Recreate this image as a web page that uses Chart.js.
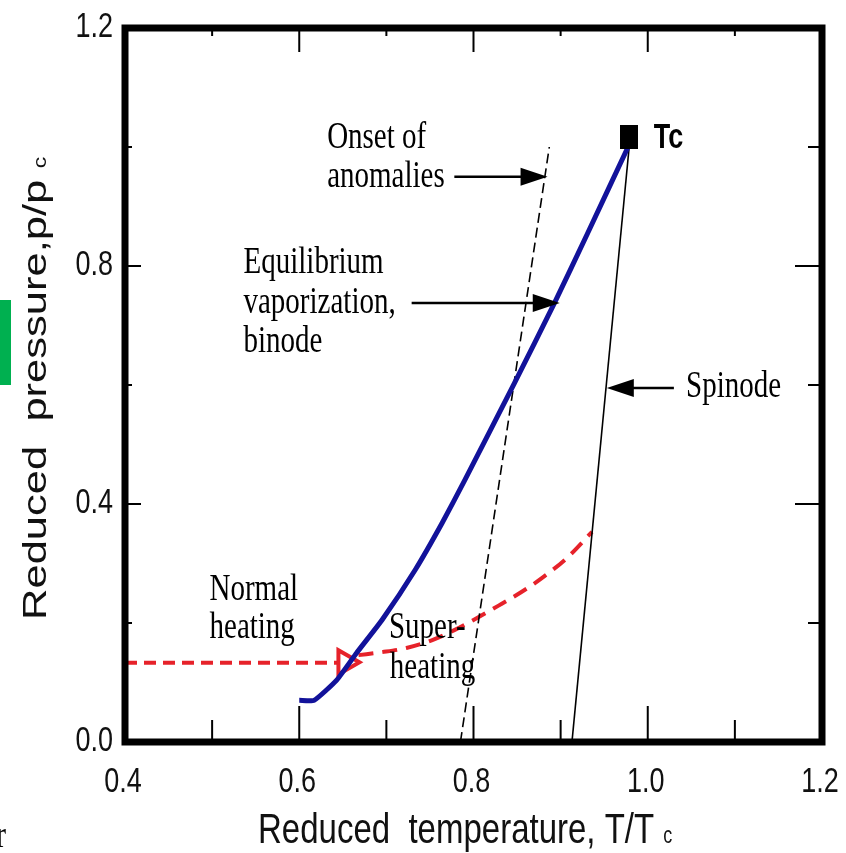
<!DOCTYPE html>
<html lang="en">
<head>
<meta charset="UTF-8">
<title>Reduced pressure vs reduced temperature</title>
<script src="https://cdn.jsdelivr.net/npm/chart.js"></script>
<style>
  html, body { margin: 0; padding: 0; background: #fff; }
  .wrap { position: relative; width: 846px; height: 853px; overflow: hidden; }
  #phaseChart { position: absolute; left: 0; top: 0; }
  .tab { position: absolute; left: 0; top: 300px; width: 11px; height: 85px; background: #00b050; }
</style>
</head>
<body>
<div class="wrap">
  <canvas id="phaseChart" width="846" height="853"></canvas>
  <div class="tab"></div>
</div>
<script>
// axis ticks (reduced temperature T/Tc, reduced pressure p/pc)
const xMajor = [0.4, 0.6, 0.8, 1.0, 1.2];
const xMinor = [0.5, 0.7, 0.9, 1.1];
const yMajor = [0.0, 0.4, 0.8, 1.2];
const yMinor = [0.2, 0.6, 1.0];

// equilibrium vaporization curve (binode)
const binodeT = [0.600, 0.617, 0.643, 0.666, 0.695, 0.733, 0.764, 0.790, 0.847, 0.893, 0.931, 0.979];
const binodeP = [0.070, 0.070, 0.104, 0.150, 0.205, 0.289, 0.368, 0.440, 0.603, 0.738, 0.855, 1.005];

// spinode
const spinodeT = [0.913, 0.979];
const spinodeP = [0.000, 1.005];

// onset of anomalies
const onsetT = [0.785, 0.887];
const onsetP = [0.000, 1.000];

// normal heating path
const normalT = [0.400, 0.647];
const normalP = [0.133, 0.133];

// superheating path
const superT = [0.668, 0.695, 0.723, 0.752, 0.778, 0.806, 0.832, 0.855, 0.878, 0.907, 0.936];
const superP = [0.146, 0.151, 0.158, 0.171, 0.188, 0.210, 0.232, 0.252, 0.275, 0.309, 0.353];

// boiling point marker and critical point
const markT = [0.653];
const markP = [0.134];
const tcT = [0.979];
const tcP = [1.016];

const pts = (xs, ys) => xs.map((x, i) => ({ x: x, y: ys[i] }));

// everything on the sheet is a bit taller than wide
const STRETCH = 1.28;
const SANS = '"Liberation Sans", Arial, sans-serif';
const SERIF = '"Liberation Serif", "Times New Roman", serif';

// labels and arrows, placed in data units
const notes = [
  { text: 'Onset of', t: 0.632, p: 0.998 },
  { text: 'anomalies', t: 0.632, p: 0.933 },
  { text: 'Equilibrium', t: 0.536, p: 0.788 },
  { text: 'vaporization,', t: 0.536, p: 0.721 },
  { text: 'binode', t: 0.536, p: 0.655 },
  { text: 'Spinode', t: 1.044, p: 0.580 },
  { text: 'Normal', t: 0.497, p: 0.239 },
  { text: 'heating', t: 0.497, p: 0.175 },
  { text: 'Super-', t: 0.703, p: 0.175 },
  { text: 'heating', t: 0.704, p: 0.108 }
];
const arrows = [
  { from: [0.778, 0.950], to: [0.885, 0.950] },
  { from: [0.729, 0.738], to: [0.899, 0.738] },
  { from: [1.030, 0.595], to: [0.953, 0.595] }
];

function drawText(ctx, str, px, py, font, align, base, rot) {
  ctx.save();
  ctx.translate(px, py);
  ctx.scale(1, STRETCH);
  if (rot) ctx.rotate(rot);
  ctx.font = font;
  ctx.textAlign = align;
  ctx.textBaseline = base;
  ctx.fillText(str, 0, 0);
  ctx.restore();
}

function drawArrow(ctx, x1, y1, x2, y2) {
  const a = Math.atan2(y2 - y1, x2 - x1);
  const len = 27, half = 9;
  const c = Math.cos(a), s = Math.sin(a);
  ctx.lineWidth = 2.5;
  ctx.beginPath();
  ctx.moveTo(x1, y1);
  ctx.lineTo(x2 - len * c * 0.7, y2 - len * s * 0.7);
  ctx.stroke();
  ctx.beginPath();
  ctx.moveTo(x2, y2);
  ctx.lineTo(x2 - len * c - half * s, y2 - len * s + half * c);
  ctx.lineTo(x2 - len * c + half * s, y2 - len * s - half * c);
  ctx.closePath();
  ctx.fill();
}

const framePlugin = {
  id: 'framePlugin',
  afterDraw(chart) {
    const { ctx, chartArea: ar, scales: { x, y } } = chart;
    ctx.save();
    ctx.strokeStyle = '#000';
    ctx.fillStyle = '#000';

    // heavy box
    ctx.lineWidth = 7;
    ctx.strokeRect(ar.left, ar.top, ar.right - ar.left, ar.bottom - ar.top);

    // inward tick marks
    ctx.lineWidth = 2;
    const seg = (x1, y1, x2, y2) => { ctx.beginPath(); ctx.moveTo(x1, y1); ctx.lineTo(x2, y2); ctx.stroke(); };
    xMajor.forEach(v => { const px = x.getPixelForValue(v); seg(px, ar.bottom, px, ar.bottom - 36); seg(px, ar.top, px, ar.top + 24); });
    xMinor.forEach(v => { const px = x.getPixelForValue(v); seg(px, ar.bottom, px, ar.bottom - 22); seg(px, ar.top, px, ar.top + 8); });
    yMajor.forEach(v => { const py = y.getPixelForValue(v); seg(ar.left, py, ar.left + 16, py); seg(ar.right, py, ar.right - 27, py); });
    yMinor.forEach(v => { const py = y.getPixelForValue(v); seg(ar.left, py, ar.left + 7, py); seg(ar.right, py, ar.right - 14, py); });

    // tick labels
    ctx.fillStyle = '#111';
    xMajor.forEach(v => drawText(ctx, v.toFixed(1), x.getPixelForValue(v) - 2, 782, '27px ' + SANS, 'center', 'middle'));
    yMajor.forEach(v => drawText(ctx, v.toFixed(1), 113, y.getPixelForValue(v) - 1, '27px ' + SANS, 'right', 'middle'));

    // axis titles with small subscript c
    const xt = 'Reduced  temperature, T/T';
    ctx.font = '33px ' + SANS;
    const xw = ctx.measureText(xt).width;
    drawText(ctx, xt, 258, 843, '33px ' + SANS, 'left', 'alphabetic');
    drawText(ctx, 'c', 258 + xw + 9, 843, '18px ' + SANS, 'left', 'alphabetic');

    const yt = 'Reduced  pressure,p/p';
    ctx.font = '34px ' + SANS;
    const yw = ctx.measureText(yt).width;
    drawText(ctx, yt, 46, 620, '34px ' + SANS, 'left', 'alphabetic', -Math.PI / 2);
    ctx.save();
    ctx.translate(46, 620 - (yw + 9) * STRETCH);
    ctx.scale(1, STRETCH);
    ctx.rotate(-Math.PI / 2);
    ctx.font = '18px ' + SANS;
    ctx.fillText('c', 0, 0);
    ctx.restore();

    // annotations
    ctx.fillStyle = '#000';
    notes.forEach(n => drawText(ctx, n.text, x.getPixelForValue(n.t), y.getPixelForValue(n.p), '29px ' + SERIF, 'left', 'alphabetic'));
    drawText(ctx, 'Tc', x.getPixelForValue(1.007), y.getPixelForValue(0.998), 'bold 27px ' + SANS, 'left', 'alphabetic');
    arrows.forEach(a => drawArrow(ctx,
      x.getPixelForValue(a.from[0]), y.getPixelForValue(a.from[1]),
      x.getPixelForValue(a.to[0]), y.getPixelForValue(a.to[1])));

    // stray glyph at the sheet edge
    drawText(ctx, 'r', -4, 847, '30px ' + SERIF, 'left', 'alphabetic');
    ctx.restore();
  }
};

// critical point symbol
const tcSymbol = document.createElement('canvas');
tcSymbol.width = 18;
tcSymbol.height = 24;
const tcc = tcSymbol.getContext('2d');
tcc.fillStyle = '#000';
tcc.fillRect(0, 0, 18, 24);

const RED = '#e6222a';
const BLUE = '#12129a';

new Chart(document.getElementById('phaseChart'), {
  type: 'scatter',
  data: {
    datasets: [
      {
        label: 'Critical point',
        data: pts(tcT, tcP),
        pointStyle: tcSymbol,
        pointRadius: 10,
        order: 0
      },
      {
        label: 'Binode',
        data: pts(binodeT, binodeP),
        showLine: true,
        borderColor: BLUE,
        borderWidth: 5,
        pointRadius: 0,
        borderJoinStyle: 'round',
        tension: 0.15,
        order: 1
      },
      {
        label: 'Spinode',
        data: pts(spinodeT, spinodeP),
        showLine: true,
        borderColor: '#000',
        borderWidth: 1.6,
        pointRadius: 0,
        order: 2
      },
      {
        label: 'Onset of anomalies',
        data: pts(onsetT, onsetP),
        showLine: true,
        borderColor: '#000',
        borderWidth: 1.6,
        borderDash: [10, 5],
        pointRadius: 0,
        order: 2
      },
      {
        label: 'Boiling point',
        data: pts(markT, markP),
        pointStyle: 'triangle',
        rotation: 90,
        pointRadius: 14,
        borderColor: RED,
        borderWidth: 4,
        backgroundColor: '#fff',
        order: 3
      },
      {
        label: 'Normal heating',
        data: pts(normalT, normalP),
        showLine: true,
        borderColor: RED,
        borderWidth: 4,
        borderDash: [12, 7],
        pointRadius: 0,
        order: 4
      },
      {
        label: 'Superheating',
        data: pts(superT, superP),
        showLine: true,
        borderColor: RED,
        borderWidth: 4,
        borderDash: [15, 9],
        cubicInterpolationMode: 'monotone',
        pointRadius: 0,
        order: 4
      }
    ]
  },
  options: {
    responsive: false,
    devicePixelRatio: 1,
    animation: false,
    layout: { padding: { left: 125, right: 24, top: 28, bottom: 111 } },
    scales: {
      x: { type: 'linear', min: 0.4, max: 1.2, display: false },
      y: { type: 'linear', min: 0.0, max: 1.2, display: false }
    },
    plugins: {
      legend: { display: false },
      tooltip: { enabled: false }
    }
  },
  plugins: [framePlugin]
});
</script>
</body>
</html>
